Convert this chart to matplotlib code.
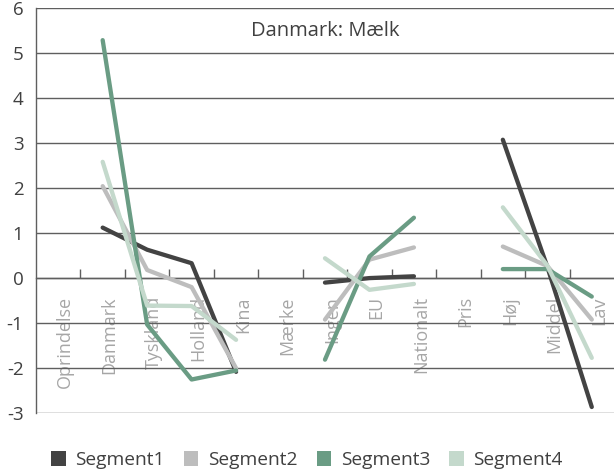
import numpy as np
import matplotlib.pyplot as plt
import matplotlib.transforms as mtransforms
from matplotlib.patches import Patch

plt.rcParams['font.family'] = ['Open Sans', 'DejaVu Sans']

kategorier = ["Oprindelse", "Danmark", "Tyskland", "Holland", "Kina",
              "Mærke", "Ingen", "EU", "Nationalt",
              "Pris", "Høj", "Middel", "Lav"]
nan = np.nan
segment1 = [nan, 1.12, 0.63, 0.33, -2.08, nan, -0.10, 0.00, 0.04, nan, 3.07, 0.25, -2.86]
segment2 = [nan, 2.04, 0.18, -0.20, -2.00, nan, -0.92, 0.41, 0.68, nan, 0.70, 0.27, -0.92]
segment3 = [nan, 5.28, -1.03, -2.25, -2.05, nan, -1.81, 0.48, 1.34, nan, 0.20, 0.20, -0.41]
segment4 = [nan, 2.58, -0.61, -0.62, -1.37, nan, 0.44, -0.26, -0.13, nan, 1.57, 0.28, -1.77]
navne = ["Segment1", "Segment2", "Segment3", "Segment4"]
farver = ["#434343", "#bdbdbd", "#6a9c84", "#c4d9cc"]

fig = plt.figure(figsize=(6.14, 4.75), dpi=100)
ax = fig.add_axes([0.0586, 0.1299, 0.9414, 0.8539])

x = np.arange(len(kategorier))
for data, farve in zip([segment1, segment2, segment3, segment4], farver):
    ax.plot(x, data, color=farve, lw=3.1, solid_capstyle="round",
            solid_joinstyle="round", zorder=3)

ax.set_xlim(-0.5, len(kategorier) - 0.5)
ax.set_ylim(-3, 6)
ax.set_yticks(range(-3, 7))
ax.set_yticklabels([str(v) for v in range(-3, 7)])
ax.grid(axis="y", color="#5f5f5f", lw=1.0, zorder=1)
ax.set_axisbelow(True)

for side in ["top", "right"]:
    ax.spines[side].set_visible(False)
ax.spines["left"].set_color("#5f5f5f")
ax.spines["left"].set_linewidth(1.0)
ax.spines["bottom"].set_position(("data", 0))
ax.spines["bottom"].set_color("#5f5f5f")
ax.spines["bottom"].set_linewidth(1.0)

# kategori-skel som små streger opad fra nullinjen
ax.set_xticks(np.arange(0.5, len(kategorier) - 1, 1.0))
ax.set_xticklabels([])
ax.tick_params(axis="x", which="major", direction="in", length=6.5,
               width=1.0, color="#5f5f5f")
ax.set_xticks(x, minor=True)
ax.set_xticklabels(kategorier, minor=True, rotation=90, va="top", ha="center")
ax.tick_params(axis="x", which="minor", length=0, pad=13, labelsize=13,
               labelcolor="#a6a6a6")
forskyd = mtransforms.ScaledTranslation(7 / 100, 0, fig.dpi_scale_trans)
for lbl in ax.get_xticklabels(minor=True):
    lbl.set_transform(lbl.get_transform() + forskyd)

ax.tick_params(axis="y", length=0, pad=9, labelsize=13.5, labelcolor="#404040")

ax.text(0.5, 0.9426, "Danmark: Mælk", transform=ax.transAxes, ha="center",
        va="center", fontsize=14.5, color="#404040")

handles = [Patch(facecolor=f, edgecolor="none") for f in farver]
fig.legend(handles, navne, loc="center", bbox_to_anchor=(0.5, 0.032), ncol=4,
           frameon=False, fontsize=13.8, labelcolor="#404040",
           handlelength=0.75, handleheight=0.9, handletextpad=0.5,
           columnspacing=1.0)

fig.savefig("out.png", dpi=100)
